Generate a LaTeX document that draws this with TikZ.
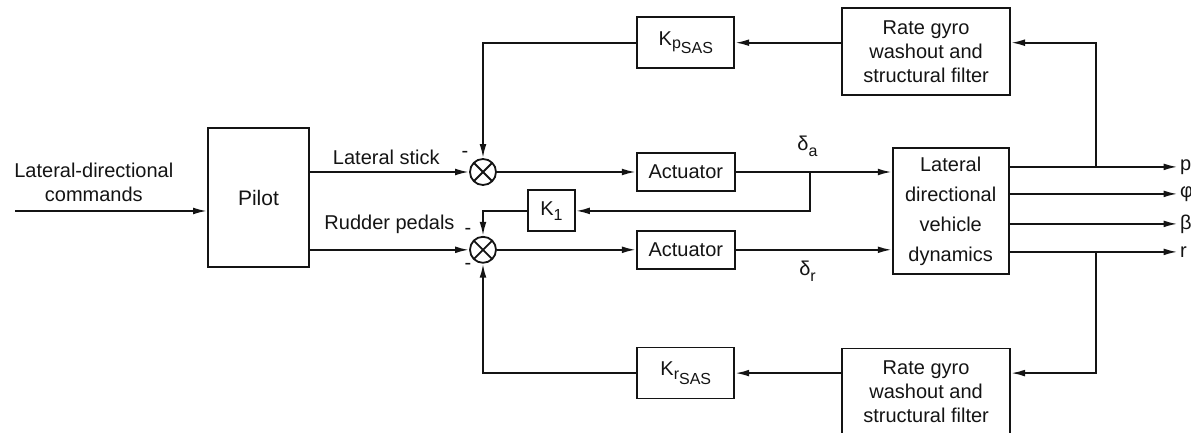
\documentclass[tikz,border=0pt]{standalone}
\usepackage{fontspec}
\setmainfont{Liberation Sans}
\usepackage{xcolor}
\usepackage{tikz}
\usetikzlibrary{positioning,arrows.meta,calc}
\definecolor{ink}{HTML}{141414}
\tikzset{
    ctrlbox/.style={
        draw=ink, line width=0.9pt,
        minimum width=49pt, minimum height=19pt,
        inner sep=1pt, align=center
    },
    gainbox/.style={
        draw=ink, line width=0.9pt,
        minimum width=48.5pt, minimum height=25.5pt,
        inner sep=1pt, align=center
    },
    gyrobox/.style={
        draw=ink, line width=0.9pt,
        minimum width=84pt, minimum height=43.5pt,
        inner sep=1pt, align=center
    },
    sumjunction/.style={
        draw=ink, circle, line width=0.9pt,
        minimum size=13pt, inner sep=0pt,
        path picture={
            \draw[ink, line width=0.9pt]
                (path picture bounding box.north west) -- (path picture bounding box.south east)
                (path picture bounding box.north east) -- (path picture bounding box.south west);
        }
    },
    sign/.style={inner sep=0pt},
    outlabel/.style={inner sep=1pt, anchor=west},
    arrow/.style={-{Latex[length=7pt,width=3.4pt]}, line width=0.95pt, color=ink},
}

\begin{document}
\begin{tikzpicture}[
        x=0.5pt, y=-0.5pt,
        every node/.style={font=\fontsize{10}{12}\selectfont, text=ink, align=center},
    ]
        \useasboundingbox (0,0) rectangle (1191,433);
        \node[ctrlbox, minimum width=50.5pt, minimum height=69.5pt, font=\fontsize{10.5}{12}\selectfont] (pilot) at (258.5,197.5) {Pilot};
        \node[sumjunction] (sum1) at (483,172) {};
        \node[sumjunction, below=25pt of sum1] (sum2) {};
        \node[ctrlbox, right=69.5pt of sum1] (act1) {Actuator};
        \node[ctrlbox, right=69.5pt of sum2] (act2) {Actuator};
        \coordinate (summid) at ($(sum1)!0.5!(sum2)$);
        \node[gainbox, minimum width=23.5pt, minimum height=20.5pt, right=22pt of summid] (k1) {K\raisebox{-0.45ex}{\fontsize{8}{9}\selectfont 1}};
        \node[ctrlbox, minimum width=58pt, minimum height=63pt, font=\fontsize{10}{15}\selectfont, right=158pt of k1] (dyn) {Lateral\\directional\\vehicle\\dynamics};
        \node[gainbox, above=41.5pt of act1] (kp) {K\raisebox{-0.35ex}{\fontsize{8}{9}\selectfont p\raisebox{-0.6ex}{SAS}}};
        \node[gainbox, below=38.5pt of act2] (kr) {K\raisebox{-0.35ex}{\fontsize{8}{9}\selectfont r\raisebox{-0.6ex}{SAS}}};
        \node[gyrobox, right=53pt of kp, yshift=-4.5pt] (gyro1) {Rate gyro\\washout and\\structural filter};
        \node[gyrobox, right=53pt of kr, yshift=-9.5pt] (gyro2) {Rate gyro\\washout and\\structural filter};
        % outputs
        \coordinate (pout) at ([yshift=22pt]dyn.east);
        \coordinate (phiout) at ([yshift=8.5pt]dyn.east);
        \coordinate (betaout) at ([yshift=-6.5pt]dyn.east);
        \coordinate (rout) at ([yshift=-20.5pt]dyn.east);
        \node[outlabel, right=84pt of pout] (p) {p};
        \node[outlabel, right=84pt of phiout] (phi) {φ};
        \node[outlabel, right=84pt of betaout] (beta) {β};
        \node[outlabel, right=84pt of rout] (r) {r};
        \coordinate (ptap) at ($(pout)+(43pt,0)$);
        \coordinate (rtap) at ($(rout)+(43pt,0)$);
        \coordinate[right=37pt of act1.east] (atap);
        \coordinate (cmdin) at ([xshift=-96pt,yshift=-6.75pt]pilot.west);
        % signs
        \node[sign] (m1) at ([shift={(-9pt,9pt)}]sum1) {-};
        \node[sign] (m2) at ([shift={(-7.5pt,9pt)}]sum2) {-};
        \node[sign] (m3) at ([shift={(-7.5pt,-8.5pt)}]sum2) {-};
        % forward paths
        \draw[arrow] (cmdin) -- (cmdin -| pilot.west) node[pos=0.41, above=1pt] {Lateral-directional\\commands};
        \draw[arrow] (pilot.east |- sum1) -- (sum1) node[pos=0.48, above] {Lateral stick};
        \draw[arrow] (pilot.east |- sum2) -- (sum2) node[pos=0.5, above=4.5pt] {Rudder pedals};
        \draw[arrow] (sum1) -- (act1);
        \draw[arrow] (sum2) -- (act2);
        \draw[arrow] (act1) -- (act1 -| dyn.west) node[pos=0.46, above=4pt] {δ\raisebox{-0.5ex}{\fontsize{8}{9}\selectfont a}};
        \draw[arrow] (act2) -- (act2 -| dyn.west) node[pos=0.46, below=2pt] {δ\raisebox{-0.5ex}{\fontsize{8}{9}\selectfont r}};
        \draw[arrow] (atap) |- (k1);
        \draw[arrow] (k1) -| (sum2);
        \draw[arrow] (pout) -- (p);
        \draw[arrow] (phiout) -- (phi);
        \draw[arrow] (betaout) -- (beta);
        \draw[arrow] (rout) -- (r);
        % feedback paths
        \draw[arrow] (ptap) |- (gyro1.east |- kp);
        \draw[arrow] (gyro1.west |- kp) -- (kp);
        \draw[arrow] (kp) -| (sum1);
        \draw[arrow] (rtap) |- (gyro2.east |- kr);
        \draw[arrow] (gyro2.west |- kr) -- (kr);
        \draw[arrow] (kr) -| (sum2);
    \end{tikzpicture}
\end{document}
